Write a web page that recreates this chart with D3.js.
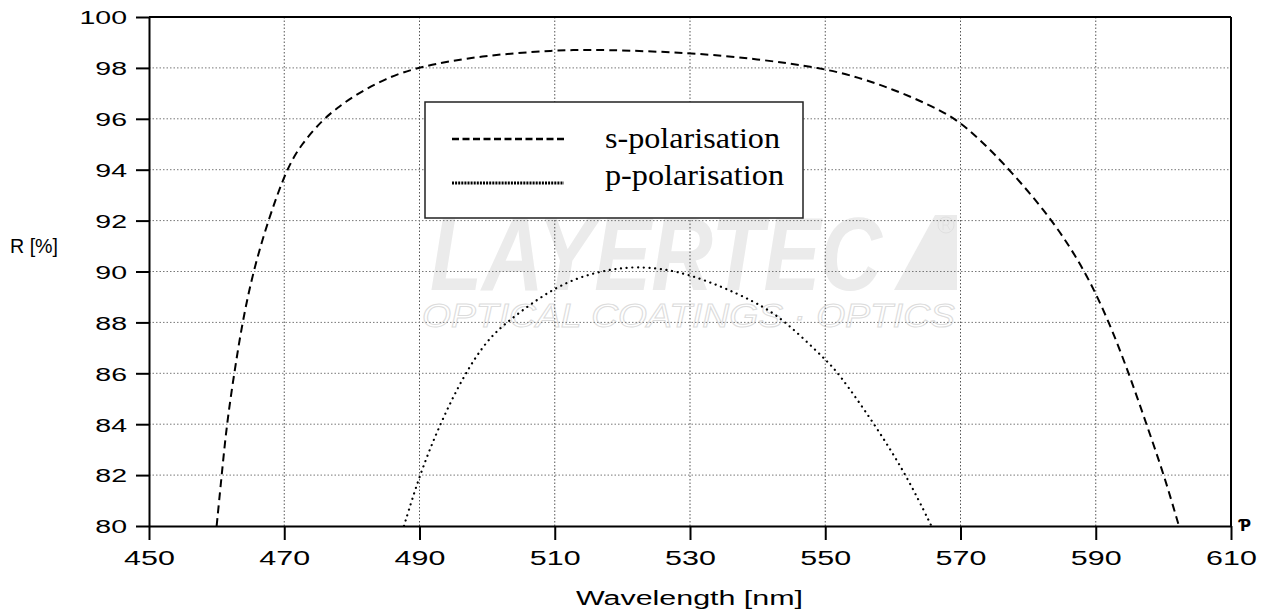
<!DOCTYPE html>
<html>
<head>
<meta charset="utf-8">
<script src="https://cdn.jsdelivr.net/npm/d3@7"></script>
<style>
  body { margin: 0; background: #fff; }
  svg { display: block; }
  .axis text { font-family: "Liberation Sans", Arial, sans-serif; fill: #000; }
  .axis path, .axis line { stroke: #000; stroke-width: 2; }
</style>
</head>
<body>
<div id="chart"></div>
<script>
// wavelength [nm] and reflectance [%]
const sWave = [460.0, 460.75, 461.5, 462.6, 463.8, 465.4, 467.6, 470.3, 472.5, 475.8, 478, 480, 485, 490, 499, 510, 517, 530, 540, 549.5, 555, 560, 565, 569.4, 573, 577.3, 583.7, 588.5, 592, 594.9, 597.5, 600.1, 602.3];
const sR    = [80, 82, 84, 86, 88, 90, 92, 94, 95.0, 96, 96.45, 96.85, 97.6, 98.05, 98.48, 98.70, 98.72, 98.6, 98.35, 98.0, 97.62, 97.16, 96.6, 96.0, 95.15, 94, 92, 90, 88, 86, 84, 82, 80];

const pWave = [487.7, 490.0, 493.0, 496.7, 500, 502.8, 510, 516.2, 522, 529.5, 540, 544.3, 550, 552, 557.3, 562, 565.7];
const pR    = [80, 82, 84, 86, 87.3, 88, 89.43, 90, 90.24, 90, 88.8, 88, 86.55, 86, 84, 82, 80];

const xTicks = [450, 470, 490, 510, 530, 550, 570, 590, 610];
const yTicks = [80, 82, 84, 86, 88, 90, 92, 94, 96, 98, 100];

const seriesNames = ["s-polarisation", "p-polarisation"];

const margin = { top: 17, right: 35, bottom: 87, left: 149 };
const width = 1266 - margin.left - margin.right;
const height = 613 - margin.top - margin.bottom;

const svg = d3.select("#chart").append("svg")
  .attr("width", 1266)
  .attr("height", 613);

const g = svg.append("g")
  .attr("transform", `translate(${margin.left},${margin.top})`);

const x = d3.scaleLinear().domain([450, 610]).range([0, width]);
const y = d3.scaleLinear().domain([80, 100]).range([height, 0]);

// watermark
const wm = g.append("g").attr("class", "watermark");
wm.append("g")
  .attr("transform", "translate(281,273) scale(1,1.4)")
  .append("text")
  .attr("x", 0).attr("y", 0)
  .attr("textLength", 452)
  .attr("lengthAdjust", "spacingAndGlyphs")
  .style("font-family", "Liberation Sans, Arial, sans-serif")
  .style("font-weight", "bold")
  .style("font-style", "italic")
  .style("font-size", "74px")
  .style("fill", "#ebebeb")
  .text("LAYERTEC");
wm.append("path")
  .attr("d", "M745,273 L786,198 L808,198 L808,273 Z")
  .style("fill", "#ebebeb");
wm.append("circle")
  .attr("cx", 797).attr("cy", 208).attr("r", 8)
  .style("fill", "none")
  .style("stroke", "#e0e0e0");
wm.append("path")
  .attr("d", "M794,213 L794,203 L799,203 Q801,205.5 799,208 L794,208 M798,208 L801,213")
  .style("fill", "none")
  .style("stroke", "#e0e0e0");
wm.append("text")
  .attr("x", 273).attr("y", 310)
  .attr("textLength", 533)
  .attr("lengthAdjust", "spacingAndGlyphs")
  .style("font-family", "Liberation Sans, Arial, sans-serif")
  .style("font-style", "italic")
  .style("font-size", "33px")
  .style("fill", "none")
  .style("stroke", "#dcdcdc")
  .style("stroke-width", 1)
  .text("OPTICAL COATINGS · OPTICS");

// grid
g.append("g").selectAll("line")
  .data(xTicks.slice(1, -1))
  .join("line")
  .attr("x1", d => x(d)).attr("x2", d => x(d))
  .attr("y1", 0).attr("y2", height)
  .style("stroke", "#555")
  .style("stroke-width", 1)
  .style("stroke-dasharray", "1.5,2");

g.append("g").selectAll("line")
  .data(yTicks.slice(1, -1))
  .join("line")
  .attr("x1", 0).attr("x2", width)
  .attr("y1", d => y(d)).attr("y2", d => y(d))
  .style("stroke", "#777")
  .style("stroke-width", 1)
  .style("stroke-dasharray", "1.5,2");

// curves
g.append("clipPath").attr("id", "plot-clip")
  .append("rect").attr("width", width).attr("height", height);

const line = d3.line()
  .x(d => x(d[0]))
  .y(d => y(d[1]))
  .curve(d3.curveBasis);

g.append("path")
  .datum(d3.zip(sWave, sR))
  .attr("clip-path", "url(#plot-clip)")
  .attr("d", line)
  .style("fill", "none")
  .style("stroke", "#000")
  .style("stroke-width", 2)
  .style("stroke-dasharray", "8,5");

g.append("path")
  .datum(d3.zip(pWave, pR))
  .attr("clip-path", "url(#plot-clip)")
  .attr("d", line)
  .style("fill", "none")
  .style("stroke", "#000")
  .style("stroke-width", 2.2)
  .style("stroke-linecap", "round")
  .style("stroke-dasharray", "0.1,5.6");

// frame top / right
g.append("line").attr("x1", 0).attr("x2", width).attr("y1", 0).attr("y2", 0)
  .style("stroke", "#000").style("stroke-width", 2);
g.append("line").attr("x1", width).attr("x2", width).attr("y1", 0).attr("y2", height)
  .style("stroke", "#000").style("stroke-width", 2);

// axes
const yAxis = d3.axisLeft(y).tickValues(yTicks).tickSize(13).tickSizeOuter(0).tickFormat(d3.format("d"));
const xAxis = d3.axisBottom(x).tickValues(xTicks).tickSize(14).tickSizeOuter(0).tickFormat(d3.format("d"));

const yAxisGroup = g.append("g").attr("class", "axis").call(yAxis);
yAxisGroup.selectAll("text")
  .attr("x", 0).attr("dy", "0.36em")
  .attr("transform", "translate(-22,0) scale(1.5,1)")
  .style("font-size", "19px");

const xAxisGroup = g.append("g").attr("class", "axis")
  .attr("transform", `translate(0,${height})`)
  .call(xAxis);
xAxisGroup.selectAll("text")
  .attr("y", 0).attr("dy", 0)
  .attr("transform", "translate(0,39) scale(1.45,1)")
  .style("font-size", "21px");

xAxisGroup.append("text")
  .attr("x", width + 14).attr("y", 5)
  .style("font-family", "DejaVu Sans, sans-serif")
  .style("font-size", "15px")
  .style("font-weight", "bold")
  .style("fill", "#000")
  .text("Ƥ");

// axis titles
svg.append("text")
  .attr("x", 10).attr("y", 253)
  .attr("textLength", 48)
  .attr("lengthAdjust", "spacingAndGlyphs")
  .style("font-family", "Liberation Sans, Arial, sans-serif")
  .style("font-size", "20px")
  .text("R [%]");

svg.append("text")
  .attr("x", 576).attr("y", 605)
  .attr("textLength", 227)
  .attr("lengthAdjust", "spacingAndGlyphs")
  .style("font-family", "Liberation Sans, Arial, sans-serif")
  .style("font-size", "20px")
  .text("Wavelength [nm]");

// legend
const legend = svg.append("g").attr("transform", "translate(424,101)");
legend.append("rect")
  .attr("x", 1).attr("y", 1)
  .attr("width", 378).attr("height", 116)
  .style("fill", "#fff")
  .style("stroke", "#222")
  .style("stroke-width", 1.5);

const legendStyles = [
  { dash: "7,3.5", width: 2.7 },
  { dash: "2,1.1", width: 3 }
];
const legendY = [38, 82];

legend.selectAll(".legend-line")
  .data(seriesNames)
  .join("line")
  .attr("class", "legend-line")
  .attr("x1", 28).attr("x2", 140)
  .attr("y1", (d, i) => legendY[i]).attr("y2", (d, i) => legendY[i])
  .style("stroke", "#000")
  .style("stroke-width", (d, i) => legendStyles[i].width)
  .style("stroke-dasharray", (d, i) => legendStyles[i].dash);

legend.selectAll(".legend-text")
  .data(seriesNames)
  .join("text")
  .attr("class", "legend-text")
  .attr("x", 181)
  .attr("y", (d, i) => [47, 84][i])
  .attr("textLength", (d, i) => [175, 179][i])
  .attr("lengthAdjust", "spacingAndGlyphs")
  .style("font-family", "Liberation Serif, Times New Roman, serif")
  .style("font-size", "29px")
  .text(d => d);
</script>
</body>
</html>
